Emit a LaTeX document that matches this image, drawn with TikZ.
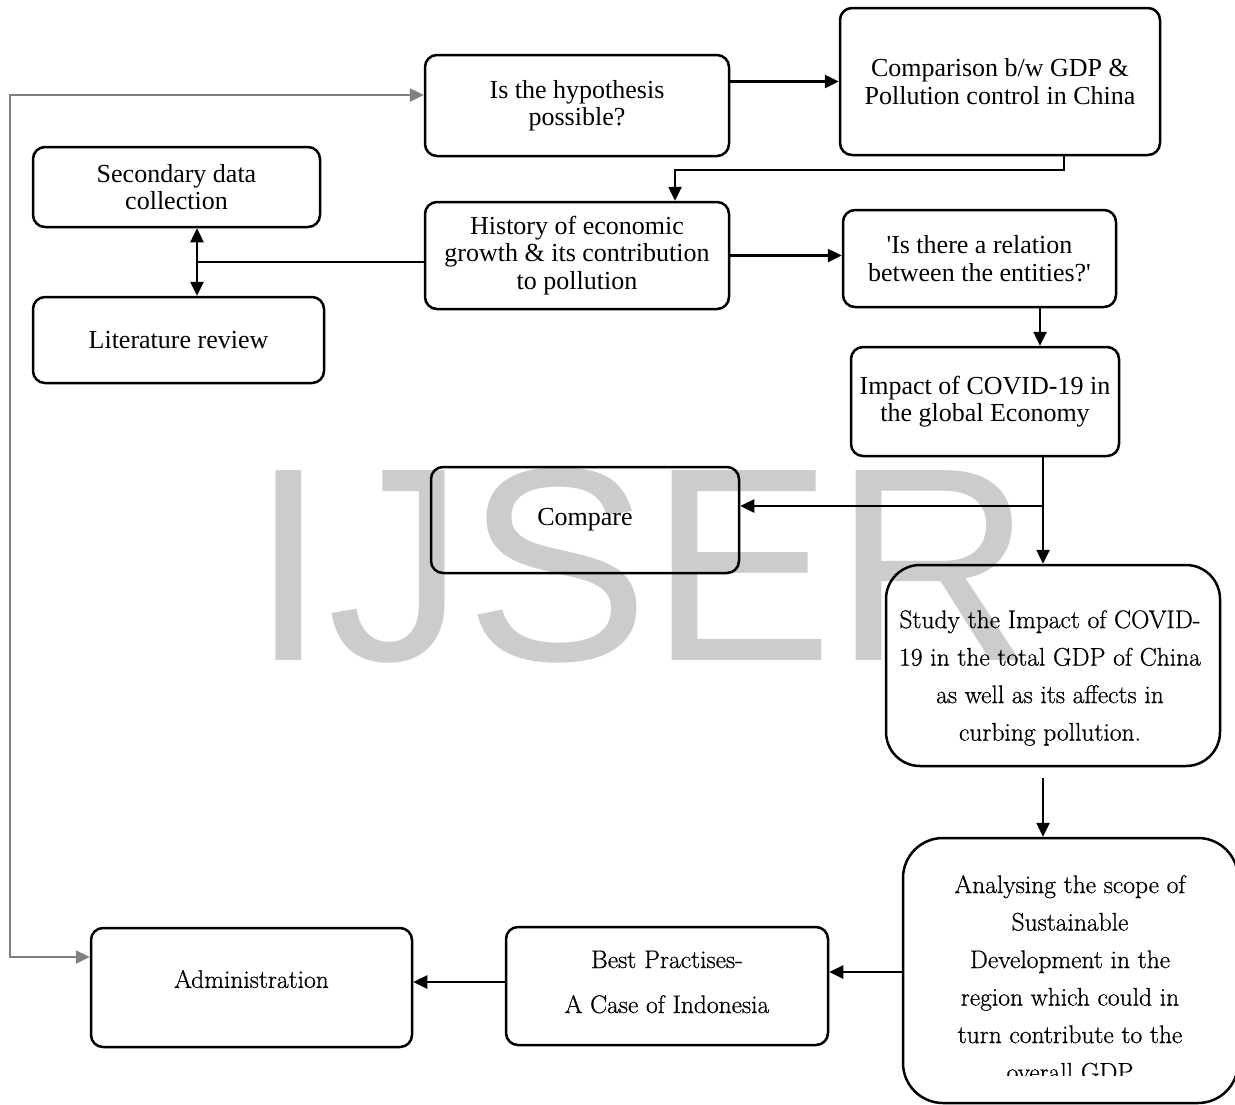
\documentclass[tikz,border=0pt]{standalone}
\usepackage{fontspec}
\newfontfamily\tms{Liberation Serif}
\newfontfamily\wmfont{Liberation Sans}
\newfontfamily\pal[FakeBold=0.7]{Latin Modern Roman}
\usetikzlibrary{arrows.meta}
\begin{document}
\begin{tikzpicture}[x=1pt,y=-1pt,
  box/.style={draw, line width=2.5pt, rounded corners=12pt, inner sep=0pt, align=center},
  tfont/.style={font=\tms\fontsize{26}{27.5}\selectfont},
  pfont/.style={font=\pal\fontsize{25.5}{37.5}\selectfont},
  conn/.style={line width=2.5pt},
  arr/.style={line width=2.5pt, -{Triangle[length=14pt,width=13pt]}},
  darr/.style={line width=2.5pt, {Triangle[length=14pt,width=13pt]}-{Triangle[length=14pt,width=13pt]}},
  garr/.style={line width=2.5pt, draw=black!50, {Triangle[length=14pt,width=13pt]}-{Triangle[length=14pt,width=13pt]}},
  lbl/.style={inner sep=0pt, align=center}]
\useasboundingbox (0,0) rectangle (1235,1104);
\clip (0,0) rectangle (1235,1104);
% watermark
\node[inner sep=0pt, anchor=base, text=black!20, font=\wmfont\fontsize{276}{276}\selectfont] (wm) at (641.5,660) {IJSER};
% boxes
\node[box, tfont, minimum width=304pt, minimum height=101pt] (hyp) at (577,105.5) {Is the hypothesis\\possible?};
\node[box, tfont, minimum width=320pt, minimum height=147pt] (comp) at (1000,81.5) {Comparison b/w GDP \&\\Pollution control in China};
\node[box, tfont, minimum width=287pt, minimum height=80pt] (sec) at (176.5,187) {Secondary data\\collection};
\node[box, tfont, minimum width=304pt, minimum height=107pt] (hist) at (577,255.5) {History of economic\\growth \& its contribution\\to pollution};
\node[box, tfont, minimum width=291pt, minimum height=86pt] (lit) at (178.5,340) {Literature review};
\node[box, tfont, minimum width=273pt, minimum height=97pt] (rel) at (979.5,258.5) {'Is there a relation\\between the entities?'};
\node[box, tfont, minimum width=268pt, minimum height=109pt] (imp) at (985,401.5) {Impact of COVID-19 in\\the global Economy};
\node[box, tfont, minimum width=308pt, minimum height=106pt] (cmpr) at (585,520) {Compare};
\node[box, rounded corners=34pt, minimum width=334pt, minimum height=201pt] (study) at (1053,665.5) {};
\node[box, rounded corners=40pt, minimum width=335pt, minimum height=265pt] (anal) at (1070.5,970.5) {};
\node[box, minimum width=322pt, minimum height=118pt] (best) at (667,986) {};
\node[box, minimum width=321pt, minimum height=119pt] (admin) at (251.5,987.5) {};
% texts of the boxes drawn without text
\node[lbl, pfont] (admint) at (251.5,979) {Administration};
\begin{scope}
  \clip (880,560) rectangle (1225,745);
  \node[lbl, pfont] (studyt) at (1050,678) {Study the Impact of COVID-\\19 in the total GDP of China\\as well as its affects in\\curbing pollution.};
\end{scope}
\begin{scope}
  \clip (900,830) rectangle (1235,1075);
  \node[lbl, pfont] (analt) at (1070,978) {Analysing the scope of\\Sustainable\\Development in the\\region which could in\\turn contribute to the\\overall GDP};
\end{scope}
\node[lbl, font=\pal\fontsize{25.5}{45}\selectfont] (bestt) at (667,982) {Best Practises-\\A Case of Indonesia};
% coordinates
\coordinate (c1) at (1064,170);
\coordinate (c2) at (675,170);
\coordinate (j1) at (197,262);
\coordinate (k1) at (1040,327);
\coordinate (b1) at (1043,506);
\coordinate (s1) at (1043,778);
\coordinate (q1) at (460,982);
\coordinate (a1) at (860,972);
\coordinate (g1) at (10,957);
\coordinate (g2) at (10,95);
% connectors
\draw[arr] (hyp.east |- comp.west) -- (comp.west);
\draw[arr] (comp.south -| c1) -- (c1) -- (c2) -- (hist.north -| c2);
\draw[conn] (hist.west |- j1) -- (j1);
\draw[darr] (sec.south -| j1) -- (lit.north -| j1);
\draw[arr] (hist.east) -- (rel.west |- hist.east);
\draw[arr] (rel.south -| k1) -- (imp.north -| k1);
\draw[arr] (imp.south -| b1) -- (study.north -| b1);
\draw[arr] (b1) -- (cmpr.east |- b1);
\draw[arr] (s1) -- (anal.north -| s1);
\draw[arr] (anal.west |- a1) -- (best.east |- a1);
\draw[arr] (best.west |- q1) -- (admin.east |- q1);
\draw[garr] (admin.west |- g1) -- (g1) -- (g2) -- (hyp.west |- g2);
\end{tikzpicture}
\end{document}
